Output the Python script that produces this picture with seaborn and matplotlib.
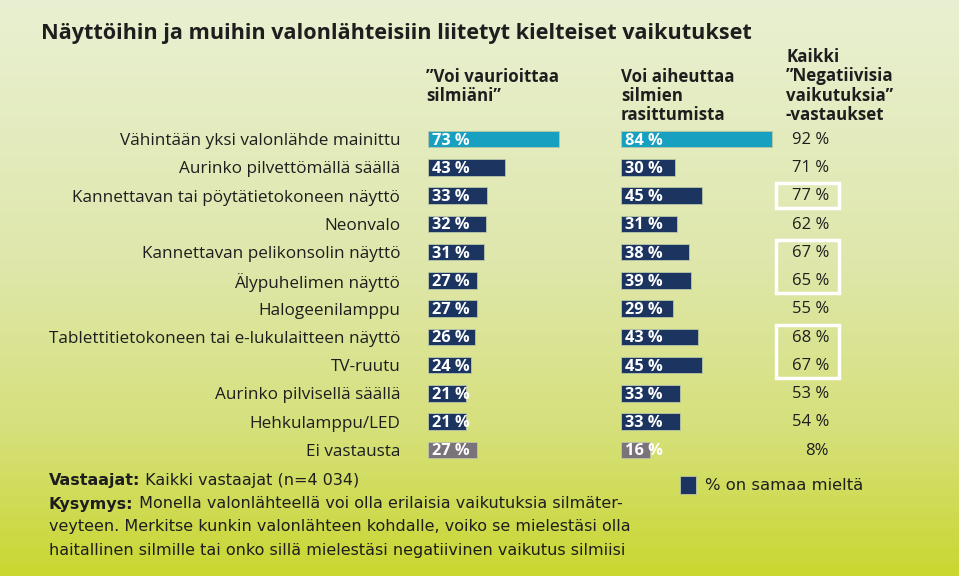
import numpy as np
import pandas as pd
import matplotlib
matplotlib.use("Agg")
import matplotlib.pyplot as plt
from matplotlib.patches import Rectangle
from matplotlib.transforms import blended_transform_factory
import seaborn as sns

# ---------------- data ----------------
categories = [
    "Vähintään yksi valonlähde mainittu",
    "Aurinko pilvettömällä säällä",
    "Kannettavan tai pöytätietokoneen näyttö",
    "Neonvalo",
    "Kannettavan pelikonsolin näyttö",
    "Älypuhelimen näyttö",
    "Halogeenilamppu",
    "Tablettitietokoneen tai e-lukulaitteen näyttö",
    "TV-ruutu",
    "Aurinko pilvisellä säällä",
    "Hehkulamppu/LED",
    "Ei vastausta",
]
damage = [73, 43, 33, 32, 31, 27, 27, 26, 24, 21, 21, 27]
strain = [84, 30, 45, 31, 38, 39, 29, 43, 45, 33, 33, 16]
negative_all = [92, 71, 77, 62, 67, 65, 55, 68, 67, 53, 54, 8]
highlight_groups = [(2, 2), (4, 5), (7, 8)]

col1_header = ["”Voi vaurioittaa", "silmiäni”"]
col2_header = ["Voi aiheuttaa", "silmien", "rasittumista"]
col3_header = ["Kaikki", "”Negatiivisia", "vaikutuksia”", "-vastaukset"]
title = "Näyttöihin ja muihin valonlähteisiin liitetyt kielteiset vaikutukset"
legend_label = "% on samaa mieltä"
resp_bold, resp_text = "Vastaajat:", " Kaikki vastaajat (n=4 034)"
q_bold = "Kysymys:"
q_lines = [" Monella valonlähteellä voi olla erilaisia vaikutuksia silmäter-",
           "veyteen. Merkitse kunkin valonlähteen kohdalle, voiko se mielestäsi olla",
           "haitallinen silmille tai onko sillä mielestäsi negatiivinen vaikutus silmiisi"]

# ---------------- style ----------------
CYAN = "#17a0bf"
NAVY = "#1c3560"
GRAY = "#7a7379"
TXT = "#1e1e1e"
row_colors = [CYAN] + [NAVY] * (len(categories) - 2) + [GRAY]

sns.set_theme(style="white")
plt.rcParams["font.family"] = ["Open Sans", "DejaVu Sans"]

W, H = 959, 576
fig = plt.figure(figsize=(W / 100, H / 100), dpi=100)

def fx(px):
    return px / W

def fy(py):
    return 1 - py / H

# background gradient
bg = fig.add_axes([0, 0, 1, 1], zorder=-10)
stops = np.array([0.0, 0.45, 0.75, 1.0])
cols = np.array([[233, 240, 210], [223, 231, 172], [214, 224, 122], [201, 215, 48]]) / 255
t = np.linspace(0, 1, 300)
grad = np.stack([np.interp(t, stops, cols[:, k]) for k in range(3)], axis=1)
bg.imshow(grad[:, None, :], aspect="auto", extent=[0, 1, 0, 1], interpolation="bilinear")
bg.set_axis_off()

# axes geometry
row_top, row_bot = 125.0, 464.0
scale = 1.8  # px per %
ax_h = (row_bot - row_top) / H
ax_b = fy(row_bot)

df = pd.DataFrame({"cat": categories, "damage": damage, "strain": strain})

def bar_axes(left_px, col):
    ax = fig.add_axes([fx(left_px), ax_b, fx(100 * scale), ax_h])
    ax.patch.set_alpha(0)
    sns.barplot(data=df, x=col, y="cat", hue="cat", palette=row_colors,
                legend=False, ax=ax, width=0.59, edgecolor="#b9c7a8", linewidth=0.6,
                orient="h", saturation=1)
    ax.set_xlim(0, 100)
    ax.set_xlabel("")
    ax.set_ylabel("")
    ax.set_xticks([])
    for s in ax.spines.values():
        s.set_visible(False)
    for i, v in enumerate(df[col]):
        ax.text(2.2, i + 0.05, f"{v} %", color="white", fontsize=11.8, fontweight="bold",
                va="center", ha="left")
    return ax

ax1 = bar_axes(428, "damage")
ax1.tick_params(axis="y", length=0, pad=20, labelsize=12.3, labelcolor=TXT)
ax2 = bar_axes(621, "strain")
ax2.set_yticks([])

# third column values
tr = blended_transform_factory(fig.transFigure, ax1.transData)
for i, v in enumerate(negative_all):
    lab = f"{v}%" if v < 10 else f"{v} %"
    ax1.text(fx(829), i + 0.03, lab, transform=tr, ha="right", va="center",
             fontsize=12, color=TXT, clip_on=False)

for a, b in highlight_groups:
    ax1.add_patch(Rectangle((fx(776), a - 0.43), fx(63), (b - a) + 0.88, transform=tr,
                            fill=False, edgecolor="white", linewidth=2.5, clip_on=False))

# headers
fig.text(fx(41), fy(39.5), title, fontsize=15.6, fontweight="bold", color=TXT, va="baseline")
hdr = dict(fontsize=12.2, fontweight="bold", color=TXT, va="baseline")
for k, line in enumerate(col1_header):
    fig.text(fx(426), fy(81.7 + 19.5 * k), line, **hdr)
for k, line in enumerate(col2_header):
    fig.text(fx(621), fy(81.7 + 19.3 * k), line, **hdr)
for k, line in enumerate(col3_header):
    fig.text(fx(786), fy(62 + 19.4 * k), line, **hdr)

# legend
leg_ax = fig.add_axes([0, 0, 1, 1], zorder=5)
leg_ax.set_axis_off()
leg_ax.set_xlim(0, 1)
leg_ax.set_ylim(0, 1)
leg_ax.add_patch(Rectangle((fx(680), fy(494)), fx(16), 18 / H, facecolor=NAVY,
                           edgecolor="#b9c7a8", linewidth=0.6))
foot = ["DejaVu Sans"]
fig.text(fx(705), fy(485), legend_label, fontsize=11.8, color=TXT, va="center", family=foot)

# footnotes
fs = 11.5
t1 = fig.text(fx(49), fy(481), resp_bold, fontsize=fs, fontweight="bold", color=TXT,
              va="center", family=foot)
fig.canvas.draw()
r = fig.canvas.get_renderer()
bb = t1.get_window_extent(r)
fig.text(bb.x1 / W, fy(481), resp_text, fontsize=fs, color=TXT, va="center", family=foot)
t2 = fig.text(fx(49), fy(504), q_bold, fontsize=fs, fontweight="bold", color=TXT,
              va="center", family=foot)
bb2 = t2.get_window_extent(r)
fig.text(bb2.x1 / W, fy(504), q_lines[0], fontsize=fs, color=TXT, va="center", family=foot)
fig.text(fx(49), fy(527), q_lines[1], fontsize=fs, color=TXT, va="center", family=foot)
fig.text(fx(49), fy(550), q_lines[2], fontsize=fs, color=TXT, va="center", family=foot)

fig.savefig("out.png", dpi=100)
